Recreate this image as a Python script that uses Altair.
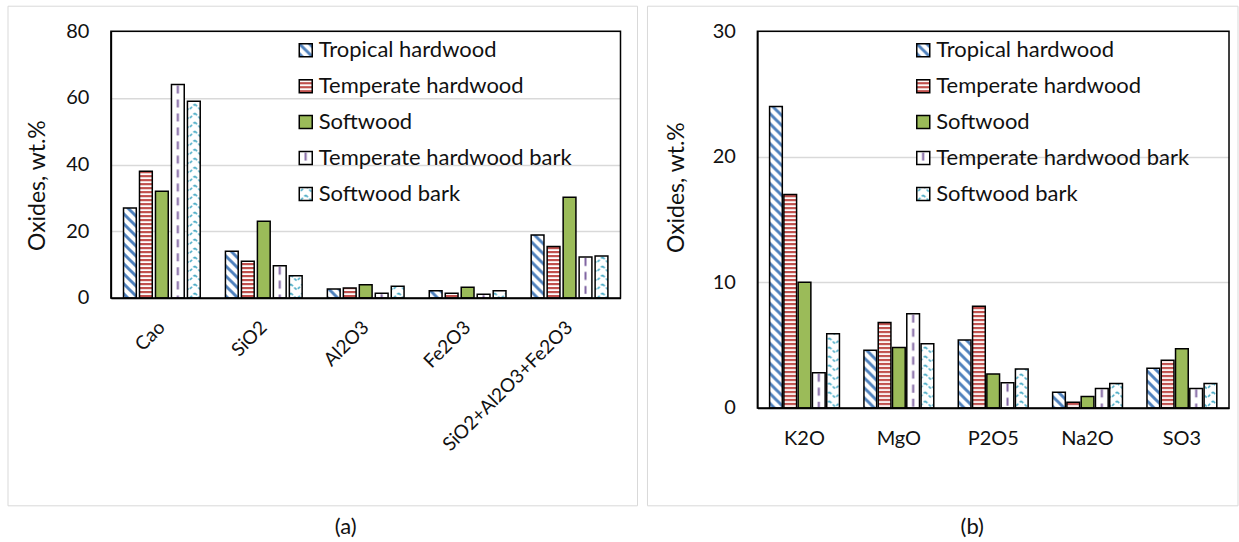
import altair as alt
import pandas as pd
import jinja2

# ---------------- data ----------------
species = ["Tropical hardwood", "Temperate hardwood", "Softwood",
           "Temperate hardwood bark", "Softwood bark"]

oxides_a = ["Cao", "SiO2", "Al2O3", "Fe2O3", "SiO2+Al2O3+Fe2O3"]
tropical_a = [27, 14, 2.7, 2.2, 18.9]
temperate_a = [38, 11, 3.0, 1.4, 15.4]
softwood_a = [32, 23, 4.0, 3.2, 30.2]
temp_bark_a = [64, 9.7, 1.4, 1.1, 12.3]
soft_bark_a = [59, 6.7, 3.5, 2.2, 12.6]
ticks_a = [0, 20, 40, 60, 80]

oxides_b = ["K2O", "MgO", "P2O5", "Na2O", "SO3"]
tropical_b = [24, 4.6, 5.4, 1.25, 3.15]
temperate_b = [17, 6.8, 8.1, 0.45, 3.8]
softwood_b = [10, 4.8, 2.7, 0.9, 4.7]
temp_bark_b = [2.8, 7.5, 2.0, 1.55, 1.55]
soft_bark_b = [5.9, 5.1, 3.1, 1.95, 1.95]
ticks_b = [0, 10, 20, 30]

y_title = "Oxides, wt.%"

# ---------------- styling ----------------
FILLS = ["url(#p_trop)", "url(#p_temp)", "#9BBB59", "url(#p_tbark)", "url(#p_sbark)"]
FONT = "Lato"
TXT = "#111111"
GRID = "#d9d9d9"


def long_df(oxides, series):
    rows = []
    for sp, vals in zip(species, series):
        for ox, v in zip(oxides, vals):
            rows.append({"oxide": ox, "species": sp, "value": v})
    return pd.DataFrame(rows)


df_a = long_df(oxides_a, [tropical_a, temperate_a, softwood_a, temp_bark_a, soft_bark_a])
df_b = long_df(oxides_b, [tropical_b, temperate_b, softwood_b, temp_bark_b, soft_bark_b])
one = pd.DataFrame({"k": [0]})


def panel(df, oxides, ticks, width, height, xpi, xpo, opi, opo, rotate,
          legend_x, title_x, title_y, caption, cap_x, border):
    bx0, bx1, by0, by1 = border
    frame = alt.Chart(one).mark_rect(fill="white", fillOpacity=0, stroke=GRID, strokeWidth=1).encode(
        x=alt.value(bx0), x2=alt.value(bx1), y=alt.value(by0), y2=alt.value(by1))

    if rotate:
        xaxis = alt.Axis(title=None, labelAngle=-45, labelAlign="right", labelBaseline="middle",
                         labelPadding=26, ticks=False, labelFontSize=19, domainColor="black",
                         domainWidth=1.5, grid=False)
    else:
        xaxis = alt.Axis(title=None, labelAngle=0, labelPadding=21, ticks=False,
                         labelFontSize=20, domainColor="black", domainWidth=1.5, grid=False)

    yaxis = alt.Axis(values=ticks, title=y_title, grid=True, gridColor=GRID, gridWidth=1.5,
                     ticks=False, domainColor="black", domainWidth=1.5, labelPadding=22,
                     labelFontSize=20, titleFontSize=23, titleX=title_x, titleY=title_y,
                     titleAngle=270, titleAlign="center", titleBaseline="middle")

    bars = alt.Chart(df).mark_bar(stroke="black", strokeWidth=1.5).encode(
        x=alt.X("oxide:N", sort=oxides, scale=alt.Scale(paddingInner=xpi, paddingOuter=xpo), axis=xaxis),
        xOffset=alt.XOffset("species:N", sort=species,
                            scale=alt.Scale(paddingInner=opi, paddingOuter=opo)),
        y=alt.Y("value:Q", scale=alt.Scale(domain=[ticks[0], ticks[-1]], nice=False), axis=yaxis),
        fill=alt.Fill("species:N", sort=species,
                      scale=alt.Scale(domain=species, range=FILLS),
                      legend=alt.Legend(title=None, orient="none", legendX=legend_x, legendY=8,
                                        symbolType="square", symbolSize=169,
                                        symbolStrokeColor="black", symbolStrokeWidth=1.5,
                                        labelFontSize=22, labelFont=FONT, labelColor=TXT,
                                        labelLimit=400, rowPadding=14, labelOffset=2,
                                        padding=0, symbolOffset=0)),
    )

    viewbox = alt.Chart(one).mark_rect(fill="white", fillOpacity=0, stroke="black",
                                       strokeWidth=1.5).encode(
        x=alt.value(0), x2=alt.value(width), y=alt.value(0), y2=alt.value(height))

    cap = alt.Chart(one).mark_text(text=caption, fontSize=22, font=FONT, color=TXT,
                                   align="center", baseline="middle").encode(
        x=alt.value(cap_x), y=alt.value(496))

    return alt.layer(frame, bars, viewbox, cap).properties(width=width, height=height)


pa = panel(df_a, oxides_a, ticks_a, 510, 267, 0.216, 0.108, 0.2, 0.1, True,
           184, -73, 154, "(a)", 235, (-103, 527, -25, 475))
pb = panel(df_b, oxides_b, ticks_b, 472, 377, 0.243, 0.121, 0.11, 0.055, False,
           155, -81, 156, "(b)", 215, (-110, 481, -25, 475))

chart = alt.hconcat(pa, pb, spacing=8).resolve_scale(
    x="independent", y="independent", fill="independent", xOffset="independent"
).resolve_legend(fill="independent").properties(
    padding={"left": 7, "top": 5, "right": 0, "bottom": 0},
    background="white",
).configure_view(strokeWidth=0).configure_axis(
    labelFont=FONT, titleFont=FONT, labelColor=TXT, titleColor=TXT, titleFontWeight="normal"
)

PATTERNS = """
<svg width="0" height="0" style="position:absolute">
  <defs>
    <pattern id="p_trop" patternUnits="userSpaceOnUse" width="10" height="10">
      <rect width="10" height="10" fill="#ffffff"/>
      <path d="M-5,5 L5,15 M0,0 L10,10 M5,-5 L15,5" stroke="#4F81BD" stroke-width="3"/>
    </pattern>
    <pattern id="p_temp" patternUnits="userSpaceOnUse" width="4" height="4">
      <rect width="4" height="4" fill="#ffffff"/>
      <rect width="4" height="2.2" fill="#C0504D"/>
    </pattern>
    <pattern id="p_tbark" patternUnits="objectBoundingBox" x="0" y="0" width="1" height="1">
      <rect width="100" height="2000" fill="#ffffff"/>
      <line x1="6.4" y1="1" x2="6.4" y2="2000" stroke="#8064A2" stroke-width="2" stroke-dasharray="8,6"/>
    </pattern>
    <pattern id="p_sbark" patternUnits="userSpaceOnUse" width="12" height="9">
      <rect width="12" height="9" fill="#ffffff"/>
      <path d="M0,1 L6,7 L12,1" fill="none" stroke="#4BACC6" stroke-width="1.6" stroke-dasharray="3,2"/>
    </pattern>
  </defs>
</svg>
"""

TEMPLATE = jinja2.Template("""<!DOCTYPE html>
<html>
<head>
  <meta charset="utf-8">
  <style>
    body { margin: 0; }
    #{{ output_div }}.vega-embed { width: 100%; display: flex; }
    #{{ output_div }}.vega-embed details,
    #{{ output_div }}.vega-embed details summary { position: relative; }
  </style>
  <script type="text/javascript" src="{{ base_url }}/vega@{{ vega_version }}"></script>
  <script type="text/javascript" src="{{ base_url }}/vega-lite@{{ vegalite_version }}"></script>
  <script type="text/javascript" src="{{ base_url }}/vega-embed@{{ vegaembed_version }}"></script>
</head>
<body>
""" + PATTERNS + """
  <div id="{{ output_div }}"></div>
  <script>
    (function(vegaEmbed) {
      var spec = {{ spec }};
      var embedOpt = {{ embed_options }};
      function showError(el, error){
        el.innerHTML = ('<div style="color:red;"><p>JavaScript Error: ' + error.message + '</p></div>');
        throw error;
      }
      const el = document.getElementById('{{ output_div }}');
      vegaEmbed("#{{ output_div }}", spec, embedOpt).catch(error => showError(el, error));
    })(vegaEmbed);
  </script>
</body>
</html>
""")

chart.save("out.html", embed_options={"renderer": "svg", "actions": False}, template=TEMPLATE)
